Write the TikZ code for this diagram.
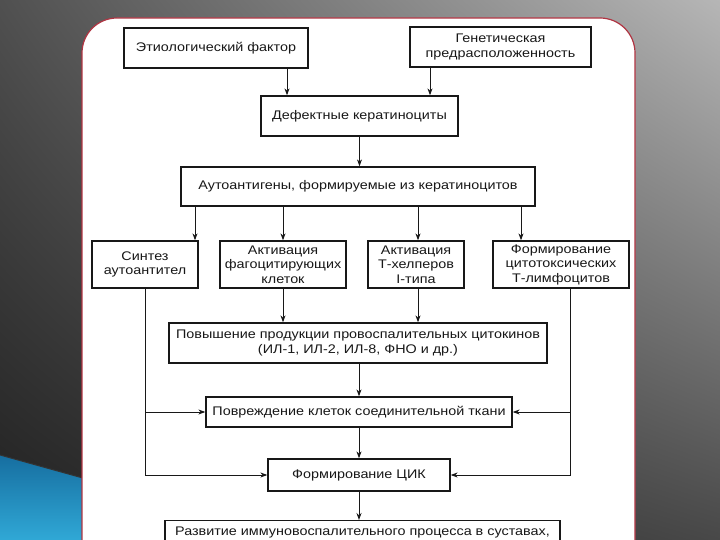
\documentclass[tikz,border=0pt]{standalone}
\usepackage{fontspec}
\setmainfont{Liberation Sans}[FakeStretch=1.15]
\usepackage{tikz}
\usetikzlibrary{positioning}
\usetikzlibrary{calc,arrows.meta,shadings}

\definecolor{FrameRed}{RGB}{176,52,66}
\definecolor{InkGrey}{RGB}{24,24,24}
\definecolor{BlueDark}{RGB}{22,110,160}
\definecolor{BlueLight}{RGB}{48,168,214}
\definecolor{SlideUL}{RGB}{80,80,80}
\definecolor{SlideUR}{RGB}{182,182,182}
\definecolor{SlideLL}{RGB}{32,32,32}
\definecolor{SlideLR}{RGB}{72,72,72}

\tikzset{
	flowbox/.style={draw=InkGrey, line width=1.3pt, fill=white, rectangle,
		align=center, inner sep=1.5pt, text=InkGrey,
		font=\fontsize{12.5}{14.5}\selectfont},
	flowline/.style={draw=InkGrey, line width=0.9pt},
	flowarrow/.style={flowline, -{Stealth[length=7pt,width=5pt]}},
}

\begin{document}
\begin{tikzpicture}[x=1pt, y=-1pt]
	
	% ------------------------------------------------
	% Ensure the dimensions of graphic are appropriate
	\useasboundingbox (0,0) rectangle (720,540);
	\clip (0,0) rectangle (720,540);
	
	% ------------------------------------------------
	% Slide background
	\shade[upper left=SlideUL, upper right=SlideUR,
		lower left=SlideLL, lower right=SlideLR]
		(0,0) rectangle (720,540);
	
	\shade[top color=BlueDark, bottom color=BlueLight]
		(0,455) -- (90,480) -- (90,540) -- (0,540) -- cycle;
	\draw[black!80, line width=1pt] (0,455) -- (90,480);
	
	\draw[FrameRed, line width=1.2pt, fill=white, rounded corners=35pt]
		(82,18) rectangle (635,590);
	
	% ------------------------------------------------
	% Boxes
	\node[flowbox, minimum width=184pt, minimum height=40pt] (Etiol) at (216,48)
		{Этиологический фактор};
	\node[flowbox, minimum width=181pt, minimum height=40pt] (Genet) at (500.5,47)
		{Генетическая\\предрасположенность};
	
	\node[flowbox, minimum width=197pt, minimum height=40pt] (Defect) at (359.5,116)
		{Дефектные кератиноциты};
	
	\node[flowbox, minimum width=354pt, minimum height=39pt] (AutoAg) at (358,186.5)
		{Аутоантигены, формируемые из кератиноцитов};
	
	\node[flowbox, minimum width=106pt, minimum height=47pt] (Synth) at (145,264.5)
		{Синтез\\аутоантител};
	\node[flowbox, minimum width=126pt, minimum height=47pt] (Phago) at (283,264.5)
		{Активация\\фагоцитирующих\\клеток};
	\node[flowbox, minimum width=96pt, minimum height=47pt] (Thelp) at (416,264.5)
		{Активация\\Т-хелперов\\I-типа};
	\node[flowbox, minimum width=136pt, minimum height=47pt] (Cytox) at (561,264.5)
		{Формирование\\цитотоксических\\Т-лимфоцитов};
	
	\node[flowbox, minimum width=378pt, minimum height=40pt] (Cytok) at (358,343)
		{Повышение продукции провоспалительных цитокинов\\(ИЛ-1, ИЛ-2, ИЛ-8, ФНО и др.)};
	
	\node[flowbox, minimum width=306pt, minimum height=30pt] (Damage) at (359,412)
		{Повреждение клеток соединительной ткани};
	
	\node[flowbox, minimum width=182pt, minimum height=32pt] (CIC) at (359,475)
		{Формирование ЦИК};
	
	\node[flowbox, minimum width=395pt, minimum height=24pt, anchor=north] (Devel) at (362.5,520)
		{Развитие иммуновоспалительного процесса в суставах,};
	
	% ------------------------------------------------
	% Relevant coordinates
	\coordinate (EtiolDrop) at (287,0);
	\coordinate (GenetDrop) at (430,0);
	\coordinate (SynthDrop) at (195,0);
	\coordinate (PhagoDrop) at (283,0);
	\coordinate (ThelpDrop) at (418,0);
	\coordinate (CytoxDrop) at (521,0);
	\coordinate (RightRail) at (570,0);
	
	% ------------------------------------------------
	% Connectors
	\draw[flowarrow] (Etiol.south -| EtiolDrop) -- (Defect.north -| EtiolDrop);
	\draw[flowarrow] (Genet.south -| GenetDrop) -- (Defect.north -| GenetDrop);
	\draw[flowarrow] (Defect.south) -- (AutoAg.north -| Defect.south);
	
	\draw[flowarrow] (AutoAg.south -| SynthDrop) -- (Synth.north -| SynthDrop);
	\draw[flowarrow] (AutoAg.south -| PhagoDrop) -- (Phago.north -| PhagoDrop);
	\draw[flowarrow] (AutoAg.south -| ThelpDrop) -- (Thelp.north -| ThelpDrop);
	\draw[flowarrow] (AutoAg.south -| CytoxDrop) -- (Cytox.north -| CytoxDrop);
	
	\draw[flowarrow] (Phago.south) -- (Cytok.north -| Phago.south);
	\draw[flowarrow] (Thelp.south -| ThelpDrop) -- (Cytok.north -| ThelpDrop);
	
	\draw[flowarrow] (Synth.south) -- (Synth.south |- CIC.west) -- (CIC.west);
	\draw[flowarrow] (Synth.south |- Damage.west) -- (Damage.west);
	
	\draw[flowarrow] (Cytox.south -| RightRail) -- (RightRail |- CIC.east) -- (CIC.east);
	\draw[flowarrow] (RightRail |- Damage.east) -- (Damage.east);
	
	\draw[flowarrow] (Cytok.south -| Damage.north) -- (Damage.north);
	\draw[flowarrow] (Damage.south) -- (CIC.north);
	\draw[flowarrow] (CIC.south) -- (Devel.north -| CIC.south);
	
\end{tikzpicture}
\end{document}
